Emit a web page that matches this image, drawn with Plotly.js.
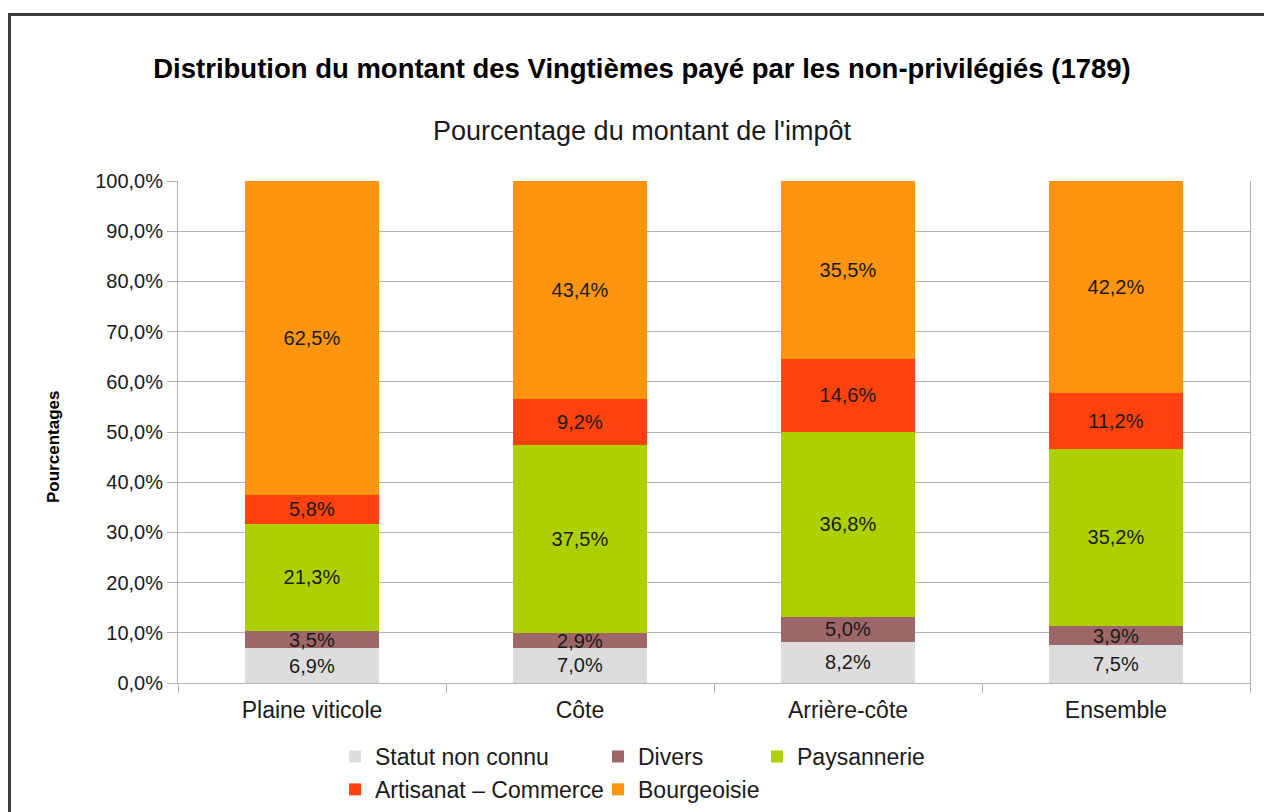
<!DOCTYPE html>
<html><head><meta charset="utf-8">
<script src="https://cdn.plot.ly/plotly-3.0.1.min.js"></script>
<style>
html,body{margin:0;padding:0;background:#fff;overflow:hidden}
#chart{width:1264px;height:812px;position:absolute;left:0;top:0}
#frame{position:absolute;left:8px;top:13px;width:1400px;height:1000px;border-left:3px solid #3c3c3c;border-top:3px solid #3c3c3c;pointer-events:none}
</style></head><body>
<div id="chart"></div><div id="frame"></div>
<script>
const categories = ["Plaine viticole", "Côte", "Arrière-côte", "Ensemble"];
const seriesNames = ["Statut non connu", "Divers", "Paysannerie", "Artisanat – Commerce", "Bourgeoisie"];
const statutNonConnu = [6.9, 7.0, 8.2, 7.5];
const divers = [3.5, 2.9, 5.0, 3.9];
const paysannerie = [21.3, 37.5, 36.8, 35.2];
const artisanatCommerce = [5.8, 9.2, 14.6, 11.2];
const bourgeoisie = [62.5, 43.4, 35.5, 42.2];
const yTicks = [0, 10, 20, 30, 40, 50, 60, 70, 80, 90, 100];
const yTickText = ["0,0%", "10,0%", "20,0%", "30,0%", "40,0%", "50,0%", "60,0%", "70,0%", "80,0%", "90,0%", "100,0%"];

const colors = ["#dddddd", "#9e6767", "#aecf00", "#ff420e", "#ff950e"];
const values = [statutNonConnu, divers, paysannerie, artisanatCommerce, bourgeoisie];
const legendIds = ["legend", "legend2", "legend3", "legend", "legend2"];

const font = "Liberation Sans, Arial, sans-serif";
const traces = values.map((v, i) => ({
  type: "bar",
  name: seriesNames[i],
  x: categories,
  y: v,
  width: 0.5,
  marker: {color: colors[i], line: {width: 0}},
  texttemplate: "%{y:.1f}%",
  textposition: "inside",
  insidetextanchor: "middle",
  constraintext: "none",
  textangle: 0,
  textfont: {family: font, size: 20, color: "#1a1a1a"},
  hoverinfo: "none",
  legend: legendIds[i],
  legendgroup: "g" + i
}));

const legBase = {
  orientation: "v", traceorder: "grouped", xanchor: "left", yanchor: "top",
  font: {family: font, size: 23, color: "#1a1a1a"}, bgcolor: "rgba(0,0,0,0)",
  itemwidth: 30, tracegroupgap: 0
};
const legY = -0.1036;

const layout = {
  width: 1264, height: 812,
  margin: {l: 178, r: 14, t: 181, b: 129, autoexpand: false},
  paper_bgcolor: "#ffffff", plot_bgcolor: "#ffffff",
  separators: ",.",
  barmode: "stack",
  font: {family: font, size: 20, color: "#1a1a1a"},
  title: {text: "<b>Distribution du montant des Vingtièmes payé par les non-privilégiés (1789)</b>",
    font: {family: font, size: 27.5, color: "#000"}, x: 642 / 1264, xanchor: "center", xref: "container", y: 0.916, yanchor: "middle"},
  annotations: [
    {text: "Pourcentage du montant de l'impôt", xref: "paper", yref: "paper", x: (641.5 - 178) / 1072, y: 1.0996, xanchor: "center", yanchor: "middle",
     showarrow: false, font: {family: font, size: 27, color: "#1a1a1a"}},
    {text: "<b>Pourcentages</b>", xref: "paper", yref: "paper", x: (53 - 178) / 1072, y: (683 - 447) / 502, xanchor: "center", yanchor: "middle",
     textangle: -90, showarrow: false, font: {family: font, size: 17, color: "#000"}}
  ],
  xaxis: {
    type: "category", tickson: "boundaries", ticks: "outside", ticklen: 9, tickcolor: "#b3b3b3", tickwidth: 1,
    showline: true, linecolor: "#b3b3b3", linewidth: 1, mirror: false, showgrid: false, ticklabelstandoff: 6,
    tickfont: {family: font, size: 23, color: "#1a1a1a"}, range: [-0.5, 3.5]
  },
  yaxis: {
    range: [0, 100], tickmode: "array", tickvals: yTicks, ticktext: yTickText,
    ticks: "outside", ticklen: 10, tickcolor: "#b3b3b3", tickwidth: 1,
    showline: true, linecolor: "#b3b3b3", linewidth: 1, mirror: true,
    showgrid: true, gridcolor: "#b3b3b3", gridwidth: 1, zeroline: false,
    tickfont: {family: font, size: 20, color: "#1a1a1a"}
  },
  legend: Object.assign({}, legBase, {x: (335 - 178) / 1072, y: legY}),
  legend2: Object.assign({}, legBase, {x: (598 - 178) / 1072, y: legY}),
  legend3: Object.assign({}, legBase, {x: (757 - 178) / 1072, y: legY}),
  showlegend: true
};

Plotly.newPlot("chart", traces, layout, {displayModeBar: false, staticPlot: true});
</script></body></html>
